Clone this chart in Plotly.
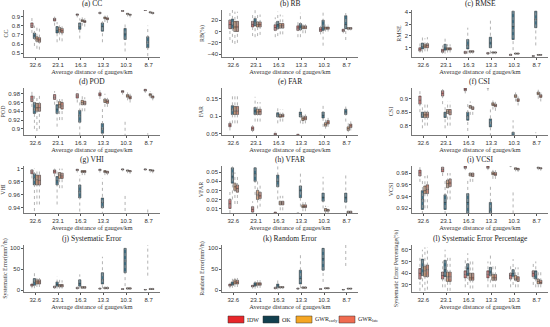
import plotly.graph_objects as go

CATEGORIES = ["32.6", "23.1", "16.3", "13.3", "10.3", "8.7"]
METHODS = ["IDW", "OK", "GWR<sub>early</sub>", "GWR<sub>late</sub>"]

# each entry per category: (low, q1, median, q3, high)
CC_IDW = [(0.72, 0.78, 0.80, 0.83, 0.89), (0.80, 0.85, 0.865, 0.88, 0.91), (0.89, 0.913, 0.92, 0.927, 0.94), (0.92, 0.932, 0.938, 0.944, 0.955), (0.95, 0.955, 0.96, 0.965, 0.97), (0.96, 0.965, 0.97, 0.975, 0.98)]
CC_OK = [(0.58, 0.66, 0.69, 0.72, 0.80), (0.62, 0.72, 0.75, 0.79, 0.84), (0.66, 0.76, 0.79, 0.83, 0.88), (0.62, 0.74, 0.79, 0.83, 0.88), (0.52, 0.65, 0.71, 0.77, 0.84), (0.47, 0.56, 0.62, 0.68, 0.80)]
CC_GWRE = [(0.55, 0.63, 0.655, 0.68, 0.79), (0.64, 0.73, 0.755, 0.78, 0.83), (0.80, 0.845, 0.855, 0.865, 0.89), (0.84, 0.875, 0.885, 0.895, 0.91), (0.90, 0.922, 0.928, 0.934, 0.95), (0.93, 0.94, 0.945, 0.95, 0.96)]
CC_GWRL = [(0.54, 0.62, 0.645, 0.67, 0.78), (0.63, 0.72, 0.745, 0.77, 0.82), (0.79, 0.835, 0.845, 0.855, 0.88), (0.83, 0.865, 0.875, 0.885, 0.91), (0.89, 0.913, 0.918, 0.924, 0.94), (0.92, 0.932, 0.937, 0.942, 0.955)]

RB_IDW = [(-15, 5, 12, 20, 35), (-8, 8, 12, 18, 30), (-10, 2, 7, 12, 25), (-10, 2, 6, 10, 20), (-5, 0, 3, 7, 10), (-3, 0, 2, 4, 5)]
RB_OK = [(-20, 5, 12, 22, 38), (-10, 10, 15, 23, 38), (-8, 5, 12, 18, 35), (-10, 3, 8, 14, 33), (-25, 2, 8, 20, 38), (-15, 5, 12, 28, 38)]
RB_GWRE = [(-22, 0, 8, 18, 35), (-8, 8, 12, 17, 33), (-5, 6, 10, 14, 30), (-3, 5, 8, 10, 15), (0, 4, 6, 8, 12), (2, 4, 5.5, 7, 9)]
RB_GWRL = [(-20, 0, 8, 18, 35), (-6, 8, 12, 17, 30), (-5, 6, 10, 14, 28), (-3, 5, 8, 10, 15), (0, 4, 6, 8, 12), (2, 4, 5.5, 7, 9)]

RMSE_IDW = [(0.6, 0.72, 0.85, 1.0, 1.4), (0.5, 0.62, 0.75, 0.88, 1.2), (0.45, 0.52, 0.6, 0.7, 0.9), (0.4, 0.47, 0.52, 0.6, 0.7), (0.3, 0.35, 0.4, 0.45, 0.5), (0.25, 0.28, 0.3, 0.33, 0.38)]
RMSE_OK = [(0.6, 0.9, 1.1, 1.4, 2.0), (0.5, 0.8, 1.0, 1.3, 1.8), (0.5, 0.9, 1.2, 1.7, 2.7), (0.5, 1.0, 1.4, 1.9, 3.3), (0.8, 1.7, 2.8, 4.1, 4.2), (1.2, 2.7, 3.4, 4.1, 4.2)]
RMSE_GWRE = [(0.7, 1.0, 1.15, 1.3, 1.8), (0.6, 0.82, 0.9, 1.0, 1.3), (0.5, 0.62, 0.68, 0.75, 0.9), (0.45, 0.55, 0.6, 0.65, 0.75), (0.4, 0.47, 0.5, 0.55, 0.6), (0.32, 0.37, 0.4, 0.43, 0.48)]
RMSE_GWRL = [(0.7, 1.0, 1.2, 1.35, 1.9), (0.6, 0.82, 0.9, 1.0, 1.3), (0.5, 0.62, 0.68, 0.75, 0.9), (0.45, 0.55, 0.6, 0.65, 0.75), (0.4, 0.47, 0.5, 0.55, 0.6), (0.32, 0.37, 0.4, 0.43, 0.48)]

POD_IDW = [(0.95, 0.962, 0.968, 0.975, 0.985), (0.955, 0.967, 0.972, 0.978, 0.986), (0.96, 0.97, 0.975, 0.98, 0.988), (0.968, 0.975, 0.978, 0.982, 0.988), (0.978, 0.983, 0.985, 0.987, 0.99), (0.982, 0.986, 0.988, 0.99, 0.992)]
POD_OK = [(0.90, 0.935, 0.945, 0.96, 0.975), (0.905, 0.935, 0.945, 0.955, 0.97), (0.885, 0.915, 0.93, 0.942, 0.965), (0.87, 0.89, 0.9, 0.912, 0.945), (0.80, 0.84, 0.855, 0.87, 0.92), (0.75, 0.80, 0.83, 0.86, 0.89)]
POD_GWRE = [(0.895, 0.94, 0.948, 0.958, 0.975), (0.92, 0.948, 0.955, 0.962, 0.975), (0.94, 0.955, 0.96, 0.965, 0.975), (0.95, 0.96, 0.964, 0.968, 0.98), (0.965, 0.972, 0.975, 0.978, 0.983), (0.97, 0.975, 0.978, 0.98, 0.985)]
POD_GWRL = [(0.90, 0.94, 0.948, 0.958, 0.975), (0.92, 0.945, 0.952, 0.96, 0.972), (0.94, 0.955, 0.958, 0.963, 0.972), (0.95, 0.958, 0.962, 0.966, 0.975), (0.96, 0.968, 0.971, 0.975, 0.98), (0.965, 0.97, 0.973, 0.975, 0.98)]

FAR_IDW = [(0.06, 0.07, 0.075, 0.08, 0.09), (0.055, 0.06, 0.065, 0.07, 0.075), (0.04, 0.046, 0.049, 0.052, 0.058), (0.038, 0.043, 0.046, 0.049, 0.054), (0.035, 0.04, 0.043, 0.046, 0.05), (0.03, 0.035, 0.038, 0.041, 0.045)]
FAR_OK = [(0.08, 0.105, 0.12, 0.13, 0.165), (0.085, 0.105, 0.115, 0.125, 0.155), (0.08, 0.098, 0.104, 0.11, 0.13), (0.08, 0.098, 0.105, 0.112, 0.13), (0.07, 0.095, 0.103, 0.112, 0.135), (0.085, 0.105, 0.112, 0.12, 0.135)]
FAR_GWRE = [(0.08, 0.105, 0.115, 0.128, 0.16), (0.085, 0.105, 0.112, 0.12, 0.14), (0.085, 0.097, 0.1, 0.105, 0.12), (0.078, 0.088, 0.093, 0.098, 0.11), (0.065, 0.072, 0.077, 0.082, 0.095), (0.055, 0.06, 0.065, 0.07, 0.08)]
FAR_GWRL = [(0.08, 0.105, 0.115, 0.128, 0.16), (0.085, 0.105, 0.113, 0.12, 0.14), (0.085, 0.098, 0.102, 0.106, 0.12), (0.08, 0.09, 0.095, 0.1, 0.112), (0.07, 0.078, 0.083, 0.088, 0.1), (0.06, 0.068, 0.073, 0.078, 0.09)]

CSI_IDW = [(0.85, 0.88, 0.895, 0.91, 0.93), (0.88, 0.91, 0.92, 0.93, 0.94), (0.92, 0.93, 0.935, 0.94, 0.95), (0.93, 0.94, 0.945, 0.95, 0.96), (0.94, 0.95, 0.955, 0.96, 0.97), (0.95, 0.96, 0.965, 0.97, 0.98)]
CSI_OK = [(0.79, 0.83, 0.84, 0.85, 0.88), (0.79, 0.83, 0.84, 0.85, 0.88), (0.78, 0.82, 0.835, 0.85, 0.88), (0.76, 0.795, 0.81, 0.825, 0.86), (0.70, 0.74, 0.76, 0.775, 0.82), (0.66, 0.70, 0.72, 0.74, 0.775)]
CSI_GWRE = [(0.80, 0.83, 0.84, 0.85, 0.88), (0.80, 0.845, 0.852, 0.86, 0.89), (0.84, 0.865, 0.87, 0.875, 0.89), (0.86, 0.875, 0.88, 0.885, 0.90), (0.89, 0.905, 0.91, 0.915, 0.925), (0.90, 0.915, 0.92, 0.925, 0.935)]
CSI_GWRL = [(0.80, 0.83, 0.84, 0.85, 0.88), (0.80, 0.84, 0.85, 0.86, 0.89), (0.84, 0.86, 0.865, 0.87, 0.885), (0.855, 0.87, 0.875, 0.88, 0.895), (0.875, 0.89, 0.895, 0.9, 0.915), (0.89, 0.905, 0.91, 0.915, 0.925)]

VHI_IDW = [(0.985, 0.992, 0.995, 0.998, 1.0), (0.988, 0.993, 0.996, 0.998, 1.0), (0.994, 0.997, 0.998, 0.999, 1.0), (0.994, 0.997, 0.998, 0.999, 1.0), (0.996, 0.998, 0.999, 0.9995, 1.0), (0.997, 0.998, 0.999, 0.9995, 1.0)]
VHI_OK = [(0.935, 0.975, 0.985, 0.992, 1.0), (0.945, 0.975, 0.982, 0.988, 0.998), (0.925, 0.955, 0.965, 0.975, 0.99), (0.92, 0.94, 0.948, 0.955, 0.985), (0.88, 0.90, 0.91, 0.92, 0.96), (0.85, 0.88, 0.89, 0.90, 0.94)]
VHI_GWRE = [(0.945, 0.975, 0.983, 0.99, 0.998), (0.97, 0.985, 0.99, 0.994, 1.0), (0.99, 0.994, 0.996, 0.997, 0.999), (0.99, 0.994, 0.995, 0.997, 0.999), (0.993, 0.996, 0.997, 0.998, 0.999), (0.994, 0.997, 0.998, 0.9985, 0.9995)]
VHI_GWRL = [(0.945, 0.975, 0.982, 0.99, 0.998), (0.97, 0.985, 0.989, 0.993, 1.0), (0.99, 0.994, 0.995, 0.997, 0.999), (0.99, 0.993, 0.995, 0.996, 0.999), (0.992, 0.995, 0.996, 0.997, 0.999), (0.993, 0.996, 0.997, 0.998, 0.9995)]

VFAR_IDW = [(0.005, 0.01, 0.015, 0.02, 0.03), (0.003, 0.006, 0.009, 0.012, 0.018), (0.002, 0.004, 0.005, 0.006, 0.008), (0.001, 0.003, 0.004, 0.005, 0.006), (0.001, 0.002, 0.003, 0.004, 0.005), (0.001, 0.002, 0.003, 0.004, 0.005)]
VFAR_OK = [(0.02, 0.038, 0.045, 0.055, 0.057), (0.025, 0.04, 0.048, 0.055, 0.057), (0.02, 0.034, 0.04, 0.047, 0.057), (0.012, 0.022, 0.03, 0.035, 0.05), (0.01, 0.018, 0.022, 0.027, 0.045), (0.01, 0.017, 0.022, 0.027, 0.047)]
VFAR_GWRE = [(0.015, 0.03, 0.034, 0.038, 0.05), (0.01, 0.02, 0.025, 0.03, 0.04), (0.008, 0.014, 0.016, 0.018, 0.024), (0.007, 0.011, 0.012, 0.014, 0.018), (0.005, 0.007, 0.008, 0.01, 0.013), (0.004, 0.005, 0.006, 0.007, 0.009)]
VFAR_GWRL = [(0.015, 0.028, 0.032, 0.036, 0.048), (0.012, 0.021, 0.024, 0.028, 0.038), (0.008, 0.014, 0.016, 0.018, 0.024), (0.007, 0.011, 0.012, 0.014, 0.018), (0.005, 0.007, 0.008, 0.009, 0.012), (0.004, 0.005, 0.006, 0.007, 0.009)]

VCSI_IDW = [(0.965, 0.975, 0.98, 0.985, 0.99), (0.975, 0.982, 0.986, 0.99, 0.994), (0.985, 0.988, 0.99, 0.992, 0.995), (0.985, 0.988, 0.99, 0.992, 0.995), (0.99, 0.992, 0.993, 0.994, 0.996), (0.992, 0.994, 0.995, 0.996, 0.998)]
VCSI_OK = [(0.90, 0.918, 0.935, 0.95, 0.97), (0.90, 0.918, 0.93, 0.943, 0.97), (0.89, 0.91, 0.93, 0.945, 0.97), (0.88, 0.90, 0.915, 0.93, 0.96), (0.85, 0.87, 0.885, 0.90, 0.95), (0.82, 0.85, 0.865, 0.88, 0.91)]
VCSI_GWRE = [(0.92, 0.945, 0.95, 0.958, 0.975), (0.935, 0.955, 0.962, 0.968, 0.98), (0.965, 0.975, 0.978, 0.98, 0.985), (0.97, 0.977, 0.979, 0.982, 0.986), (0.983, 0.986, 0.988, 0.989, 0.991), (0.985, 0.988, 0.989, 0.99, 0.992)]
VCSI_GWRL = [(0.92, 0.945, 0.952, 0.96, 0.976), (0.935, 0.957, 0.963, 0.97, 0.98), (0.965, 0.974, 0.977, 0.98, 0.985), (0.97, 0.976, 0.978, 0.981, 0.985), (0.982, 0.985, 0.987, 0.988, 0.99), (0.984, 0.987, 0.988, 0.989, 0.991)]

SE_IDW = [(5, 10, 12, 15, 20), (3, 6, 8, 10, 15), (2, 4, 5, 7, 9), (1, 3, 4, 5, 7), (1, 2, 3, 4, 5), (0.5, 1, 1.5, 2, 3)]
SE_OK = [(5, 12, 20, 28, 42), (4, 10, 14, 20, 33), (4, 10, 16, 25, 38), (5, 15, 25, 42, 80), (10, 42, 70, 100, 100), (35, 110, 130, 160, 200)]
SE_GWRE = [(8, 15, 20, 25, 35), (4, 8, 11, 14, 25), (3, 5, 7, 9, 14), (2, 4, 5, 7, 10), (2, 3, 4, 6, 8), (1, 2, 3, 4, 6)]
SE_GWRL = [(8, 15, 20, 25, 33), (4, 8, 11, 14, 24), (3, 5, 7, 9, 14), (2, 4, 5, 7, 10), (2, 3, 4, 6, 8), (1, 2, 3, 4, 6)]

RE_IDW = [(5, 10, 13, 15, 20), (4, 8, 10, 12, 16), (2, 4, 5, 7, 10), (1, 3, 4, 5, 7), (1, 2, 3, 4, 5), (0.5, 1, 1.5, 2, 3)]
RE_OK = [(6, 12, 15, 20, 28), (4, 10, 13, 18, 22), (2, 6, 10, 15, 30), (5, 15, 28, 48, 90), (20, 48, 75, 100, 100), (58, 110, 130, 160, 200)]
RE_GWRE = [(8, 15, 20, 25, 30), (6, 12, 15, 18, 24), (3, 6, 7, 9, 12), (3, 5, 6, 8, 11), (2, 4, 5, 6, 8), (1, 3, 4, 5, 6)]
RE_GWRL = [(8, 15, 19, 24, 30), (6, 12, 15, 18, 24), (3, 6, 7, 9, 12), (3, 5, 6, 8, 11), (2, 4, 5, 6, 8), (1, 3, 4, 5, 6)]

SEP_IDW = [(25, 35, 40, 44, 55), (28, 35, 38, 41, 50), (28, 36, 39, 42, 52), (28, 36, 39, 42, 50), (28, 35, 38, 40, 48), (30, 37, 40, 42, 50)]
SEP_OK = [(28, 38, 45, 52, 60), (28, 37, 43, 51, 60), (30, 38, 44, 48, 57), (32, 38, 41, 45, 55), (30, 37, 40, 43, 52), (28, 35, 39, 42, 50)]
SEP_GWRE = [(25, 37, 42, 46, 62), (25, 33, 37, 41, 55), (27, 34, 36, 40, 50), (28, 34, 36, 39, 48), (28, 34, 35, 38, 45), (28, 31, 33, 35, 42)]
SEP_GWRL = [(26, 37, 43, 47, 62), (25, 33, 37, 41, 55), (27, 34, 36, 40, 50), (28, 34, 36, 39, 48), (28, 33, 35, 37, 45), (28, 31, 32, 34, 42)]

PANELS = [
    ("(a) CC", "CC", [CC_IDW, CC_OK, CC_GWRE, CC_GWRL], [0.46, 0.97], [0.5, 0.6, 0.7, 0.8, 0.9]),
    ("(b) RB", "RB(%)", [RB_IDW, RB_OK, RB_GWRE, RB_GWRL], [-45, 38], [-40, -20, 0, 20]),
    ("(c) RMSE", "RMSE", [RMSE_IDW, RMSE_OK, RMSE_GWRE, RMSE_GWRL], [0.22, 4.2], [1, 2, 3, 4]),
    ("(d) POD", "POD", [POD_IDW, POD_OK, POD_GWRE, POD_GWRL], [0.886, 0.993], [0.9, 0.92, 0.94, 0.96, 0.98]),
    ("(e) FAR", "FAR", [FAR_IDW, FAR_OK, FAR_GWRE, FAR_GWRL], [0.047, 0.18], [0.05, 0.1, 0.15]),
    ("(f) CSI", "CSI", [CSI_IDW, CSI_OK, CSI_GWRE, CSI_GWRL], [0.765, 0.94], [0.8, 0.85, 0.9]),
    ("(g) VHI", "VHI", [VHI_IDW, VHI_OK, VHI_GWRE, VHI_GWRL], [0.932, 1.004], [0.94, 0.96, 0.98, 1]),
    ("(h) VFAR", "VFAR", [VFAR_IDW, VFAR_OK, VFAR_GWRE, VFAR_GWRL], [0.005, 0.057], [0.01, 0.02, 0.03, 0.04, 0.05]),
    ("(i) VCSI", "VCSI", [VCSI_IDW, VCSI_OK, VCSI_GWRE, VCSI_GWRL], [0.912, 0.992], [0.92, 0.94, 0.96, 0.98]),
    ("(j) Systematic Error", "Systematic Error(mm<sup>2</sup>/h)", [SE_IDW, SE_OK, SE_GWRE, SE_GWRL], [-4, 108], [0, 50, 100]),
    ("(k) Random Error", "Random Error(mm<sup>2</sup>/h)", [RE_IDW, RE_OK, RE_GWRE, RE_GWRL], [-4, 108], [0, 50, 100]),
    ("(l) Systematic Error Percentage", "Systematic Error Percentage(%)", [SEP_IDW, SEP_OK, SEP_GWRE, SEP_GWRL], [24, 64], [30, 40, 50, 60]),
]

# ---- styles ----
W, H = 550, 327
BOX_FILL = ["#d27878", "#41778f", "#d9a684", "#cc8877"]
LEGEND_COLORS = ["#e8262a", "#12404f", "#f5a623", "#f06b50"]
OFFSETS = [-0.15, -0.04, 0.07, 0.18]
BOX_W = 0.1
SERIF = "Liberation Serif, Times New Roman, serif"
SANS = "Liberation Sans, Arial, sans-serif"

COL_X = [(24, 160), (222, 358), (412, 548)]
ROW_Y = [(10, 57), (88, 135), (166, 213), (245, 292)]


def px2x(p):
    return p / W


def px2y(p):
    return 1 - p / H


fig = go.Figure()
layout = dict(
    width=W, height=H, margin=dict(l=0, r=0, t=0, b=0, pad=0), autosize=False,
    paper_bgcolor="white", plot_bgcolor="white", showlegend=False,
    boxmode="overlay", annotations=[], shapes=[],
)

for k, (title, ylab, series, yr, yt) in enumerate(PANELS):
    r, c = divmod(k, 3)
    n = k + 1
    xa = "x" if n == 1 else f"x{n}"
    ya = "y" if n == 1 else f"y{n}"
    x0, x1 = COL_X[c]
    y0, y1 = ROW_Y[r]
    # whiskers (dotted)
    for m, data in enumerate(series):
        wx, wy = [], []
        for i, (lo, q1, med, q3, hi) in enumerate(data):
            p = i + OFFSETS[m]
            wx += [p, p, None]
            wy += [lo, hi, None]
        fig.add_trace(go.Scatter(
            x=wx, y=wy, mode="lines", xaxis=xa, yaxis=ya,
            line=dict(color="#a0a0a0", width=0.8, dash="dot"),
            hoverinfo="skip", showlegend=False))
    # boxes
    for m, data in enumerate(series):
        pos = [i + OFFSETS[m] for i in range(len(data))]
        q1 = [d[1] for d in data]
        med = [d[2] for d in data]
        q3 = [d[3] for d in data]
        fig.add_trace(go.Box(
            x=pos, q1=q1, median=med, q3=q3, lowerfence=q1, upperfence=q3,
            width=BOX_W, whiskerwidth=0, fillcolor=BOX_FILL[m],
            line=dict(color="#3a3a3a", width=0.6), boxpoints=False,
            xaxis=xa, yaxis=ya, name=METHODS[m], showlegend=False))

    layout["xaxis" if n == 1 else f"xaxis{n}"] = dict(
        domain=[px2x(x0), px2x(x1)], anchor=ya, range=[-0.5, 5.5], automargin=False,
        tickvals=list(range(len(CATEGORIES))), ticktext=CATEGORIES,
        showline=True, linecolor="#555", linewidth=0.8, mirror=False,
        ticks="outside", ticklen=2, tickcolor="#555", showgrid=False, zeroline=False,
        tickfont=dict(family=SANS, size=6, color="#333"),
        title=dict(text="Average distance of gauges/km", standoff=1,
                   font=dict(family=SERIF, size=6.5, color="#333")))
    layout["yaxis" if n == 1 else f"yaxis{n}"] = dict(
        domain=[px2y(y1), px2y(y0)], anchor=xa, range=yr, tickvals=yt, automargin=False,
        showline=True, linecolor="#555", linewidth=0.8, mirror=False,
        ticks="outside", ticklen=2, tickcolor="#555", showgrid=False, zeroline=False,
        tickfont=dict(family=SANS, size=6, color="#333"),
        title=dict(text=ylab, standoff=2, font=dict(family=SERIF, size=6, color="#333")))
    layout["annotations"].append(dict(
        text=title, x=px2x((x0 + x1) / 2), y=px2y(y0), xref="paper", yref="paper",
        xanchor="center", yanchor="bottom", showarrow=False,
        font=dict(family=SERIF, size=7.5, color="#222")))

# legend (bottom center)
LEG_X = [228, 263, 296, 339]
for m, lab in enumerate(METHODS):
    lx = LEG_X[m]
    layout["shapes"].append(dict(
        type="rect", xref="paper", yref="paper",
        x0=px2x(lx), x1=px2x(lx + 16), y0=px2y(323), y1=px2y(316),
        fillcolor=LEGEND_COLORS[m], line=dict(color="#333", width=0.5)))
    layout["annotations"].append(dict(
        text=lab, x=px2x(lx + 17), y=px2y(319.5), xref="paper", yref="paper",
        xanchor="left", yanchor="middle", showarrow=False,
        font=dict(family=SERIF, size=6, color="#222")))

fig.update_layout(**layout)
fig.write_html("out.html", config={"displayModeBar": False, "staticPlot": True},
               post_script="document.body.style.margin='0';document.body.style.overflow='hidden';")
